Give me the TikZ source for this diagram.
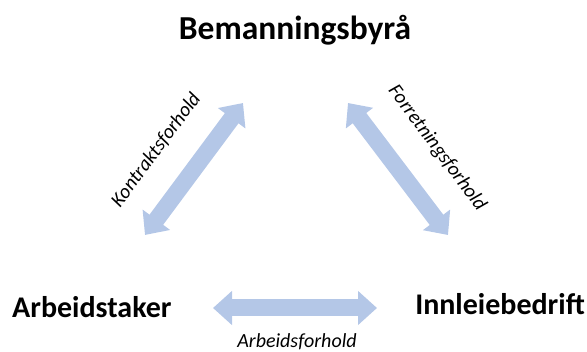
\documentclass[tikz,border=0pt]{standalone}
\usepackage{fontspec}
\setmainfont{Carlito}
\usetikzlibrary{arrows.meta}
\definecolor{arrowblue}{RGB}{180,199,231}
\tikzset{
  party/.style={font=\bfseries\fontsize{33.5}{38}\selectfont, inner sep=0pt, anchor=base},
  partysmall/.style={font=\bfseries\fontsize{30}{34}\selectfont, inner sep=0pt},
  rel/.style={font=\itshape\fontsize{20}{23}\selectfont, inner sep=0pt},
  fatarrow/.style={draw=arrowblue, line width=17pt,
    {Triangle[width=33pt,length=19pt]}-{Triangle[width=33pt,length=19pt]}}
}
\begin{document}
\begin{tikzpicture}[x=1pt,y=-1pt]
\useasboundingbox (0,0) rectangle (587,352);
\node[party] (byra) at (295,40) {Bemanningsbyrå};
\node[partysmall, anchor=base west] (taker) at (12,318) {Arbeidstaker};
\node[partysmall, anchor=base east] (bedrift) at (585,315) {Innleiebedrift};
\coordinate (l1) at (145,235);
\coordinate (l2) at (243,103);
\coordinate (r1) at (348,103);
\coordinate (r2) at (448,235);
\coordinate (b1) at (213,308);
\coordinate (b2) at (377,308);
\draw[fatarrow] (l1) -- (l2);
\draw[fatarrow] (r1) -- (r2);
\draw[fatarrow] (b1) -- (b2);
\node[rel, rotate=53.4] (kontrakt) at (156,150) {Kontraktsforhold};
\node[rel, rotate=-53.4] (forretning) at (437,148) {Forretningsforhold};
\node[rel] (arbeid) at (297,342) {Arbeidsforhold};
\end{tikzpicture}
\end{document}
